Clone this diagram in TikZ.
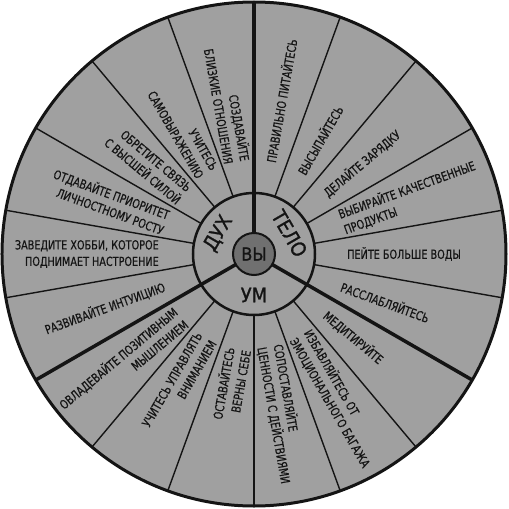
\documentclass[tikz,border=0pt]{standalone}
\usepackage{fontspec}
\setmainfont{DejaVu Sans}
\newfontfamily\condfont{DejaVu Sans Condensed}[FakeStretch=0.86, FakeBold=0.5]
\newfontfamily\ringfont{DejaVu Sans}[FakeStretch=0.9, FakeBold=1]
\definecolor{wheelgray}{RGB}{160,160,160}
\definecolor{coregray}{RGB}{112,112,112}
\definecolor{inkblack}{RGB}{20,20,20}
\tikzset{
  outlabel/.style={anchor=west, align=left, inner sep=0pt, text=inkblack,
    font=\condfont\fontsize{12.5}{16.5}\selectfont},
  inlabel/.style={anchor=east, align=right, inner sep=0pt, text=inkblack,
    font=\condfont\fontsize{12.5}{16.5}\selectfont},
  ringlabel/.style={inner sep=0pt, text=inkblack, font=\ringfont\fontsize{20}{21}\selectfont},
  spoke/.style={line width=1.4pt, draw=inkblack},
  mainspoke/.style={line width=3.5pt, draw=inkblack},
}
\begin{document}
\begin{tikzpicture}[x=1pt, y=1pt]
  \useasboundingbox (-254,-255) rectangle (255,254);
  % wheel
  \fill[wheelgray] (0,0) circle (252);
  \begin{scope}[spoke]
    \draw (110:61) -- (110:252);
    \draw (130:61) -- (130:252);
    \draw (150:61) -- (150:252);
    \draw (170:61) -- (170:252);
    \draw (190:61) -- (190:252);
    \draw (70:61) -- (70:252);
    \draw (50:61) -- (50:252);
    \draw (30:61) -- (30:252);
    \draw (10:61) -- (10:252);
    \draw (-10:61) -- (-10:252);
    \draw (230:61) -- (230:252);
    \draw (250:61) -- (250:252);
    \draw (270:61) -- (270:252);
    \draw (290:61) -- (290:252);
    \draw (310:61) -- (310:252);
  \end{scope}
  \draw[line width=2.5pt, draw=inkblack, fill=wheelgray] (0,0) circle (61);
  \begin{scope}[mainspoke]
    \draw (90:21) -- (90:252);
    \draw (210:21) -- (210:252);
    \draw (330:21) -- (330:252);
  \end{scope}
  \draw[line width=3pt, draw=inkblack] (0,0) circle (252);
  \draw[line width=2pt, draw=inkblack, fill=coregray] (0,0) circle (21);
  \node[text=inkblack, font=\ringfont\fontsize{18}{19}\selectfont] (you) at (0,0) {ВЫ};
  % ring
  \node[ringlabel, rotate=60] (spirit) at (150:41) {ДУХ};
  \node[ringlabel, rotate=-60] (body) at (30:41) {ТЕЛО};
  \node[ringlabel] (mind) at (270:41) {УМ};
  % body
  \node[outlabel, rotate=80] (food) at (80:93) {ПРАВИЛЬНО ПИТАЙТЕСЬ};
  \node[outlabel, rotate=60] (sleep) at (60:93) {ВЫСЫПАЙТЕСЬ};
  \node[outlabel, rotate=40] (sport) at (40:93) {ДЕЛАЙТЕ ЗАРЯДКУ};
  \node[outlabel, rotate=20] (goods) at (20:93) {ВЫБИРАЙТЕ КАЧЕСТВЕННЫЕ\\ПРОДУКТЫ};
  \node[outlabel, rotate=0] (water) at (0:93) {ПЕЙТЕ БОЛЬШЕ ВОДЫ};
  \node[outlabel, rotate=-20] (relax) at (-20:93) {РАССЛАБЛЯЙТЕСЬ};
  % mind
  \node[outlabel, rotate=-40] (meditate) at (-40:93) {МЕДИТИРУЙТЕ};
  \node[outlabel, rotate=-60] (baggage) at (-60:93) {ИЗБАВЛЯЙТЕСЬ ОТ\\ЭМОЦИОНАЛЬНОГО БАГАЖА};
  \node[outlabel, rotate=-80] (values) at (-80:93) {СОПОСТАВЛЯЙТЕ\\ЦЕННОСТИ С ДЕЙСТВИЯМИ};
  \node[inlabel, rotate=80] (true) at (260:96) {ОСТАВАЙТЕСЬ\\ВЕРНЫ СЕБЕ};
  \node[inlabel, rotate=60] (focus) at (240:96) {УЧИТЕСЬ УПРАВЛЯТЬ\\ВНИМАНИЕМ};
  \node[inlabel, rotate=40] (positive) at (220:96) {ОВЛАДЕВАЙТЕ ПОЗИТИВНЫМ\\МЫШЛЕНИЕМ};
  % spirit
  \node[inlabel, rotate=20] (intuition) at (200:95) {РАЗВИВАЙТЕ ИНТУИЦИЮ};
  \node[inlabel, rotate=0] (hobby) at (180:95) {ЗАВЕДИТЕ ХОББИ, КОТОРОЕ\\ПОДНИМАЕТ НАСТРОЕНИЕ};
  \node[inlabel, rotate=-20] (growth) at (160:93) {ОТДАВАЙТЕ ПРИОРИТЕТ\\ЛИЧНОСТНОМУ РОСТУ};
  \node[inlabel, rotate=-40] (higher) at (140:91) {ОБРЕТИТЕ СВЯЗЬ\\С ВЫСШЕЙ СИЛОЙ};
  \node[inlabel, rotate=-60] (express) at (120:93) {УЧИТЕСЬ\\САМОВЫРАЖЕНИЮ};
  \node[inlabel, rotate=-80] (close) at (100:93) {СОЗДАВАЙТЕ\\БЛИЗКИЕ ОТНОШЕНИЯ};
\end{tikzpicture}
\end{document}
